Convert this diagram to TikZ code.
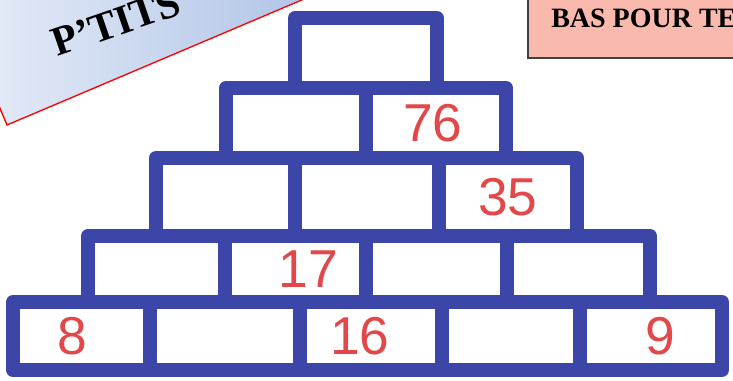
\documentclass[tikz,border=0pt]{standalone}
\usepackage{fontspec}
\setmainfont{Liberation Serif}
\newfontfamily\handfont{Liberation Sans}
\usetikzlibrary{positioning}
\definecolor{pyrBlue}{HTML}{3C46A8}
\definecolor{pyrRed}{HTML}{E2474A}
\definecolor{bannerBlue}{HTML}{AEC2E6}
\definecolor{bannerLight}{HTML}{E9EFF9}
\definecolor{notePink}{HTML}{F9B9AD}

\begin{document}
\begin{tikzpicture}[x=0.75pt,y=-0.75pt,
  pyrline/.style={draw=pyrBlue,line width=10.5pt,line join=round,line cap=round},
  digit/.style={text=pyrRed,font=\handfont\fontsize{40}{40}\selectfont},
  bannertext/.style={font=\bfseries\fontsize{31}{31}\selectfont,inner sep=0pt},
  notetext/.style={font=\bfseries\fontsize{21}{21}\selectfont,inner sep=0pt}]
\useasboundingbox (0,0) rectangle (733,381);
\newcommand{\pyrcell}[7][0]{%
  \draw[pyrline] (#3,#5) rectangle (#4,#6);
  \node[digit] (#2) at ({(#3+#4)/2+#1},{(#5+#6)/2}) {#7};
}
% banner and note, cut by the frame
\begin{scope}
\clip (0,0) rectangle (733,381);
\draw[red,line width=1pt,left color=bannerLight,right color=bannerBlue]
  (7,125) -- (330,-12) -- (-51,-13) -- cycle;
\node[bannertext,rotate=19,anchor=base west] (tits) at (57,57) {P’TITS};
\draw[fill=notePink,draw=black!75,line width=0.8pt] (528,-5) rectangle (745,58);
\node[notetext,anchor=base west] (bas) at (551,28) {BAS POUR TE};
\end{scope}
% the pyramid, top row first
\pyrcell{a1}{295}{437}{18}{88}{}
\pyrcell{b1}{226}{366}{88}{158}{}
\pyrcell[-3]{b2}{366}{506}{88}{158}{76}
\pyrcell{c1}{156}{295}{158}{236}{}
\pyrcell{c2}{295}{439}{158}{236}{}
\pyrcell{c3}{439}{577}{158}{236}{35}
\pyrcell{d1}{88}{225}{236}{302}{}
\pyrcell[13]{d2}{225}{366}{236}{302}{17}
\pyrcell{d3}{366}{507}{236}{302}{}
\pyrcell{d4}{507}{650}{236}{302}{}
\pyrcell[-9]{e1}{13}{150}{302}{370}{8}
\pyrcell{e2}{150}{300}{302}{370}{}
\pyrcell[-11]{e3}{300}{442}{302}{370}{16}
\pyrcell{e4}{442}{580}{302}{370}{}
\pyrcell[9]{e5}{580}{722}{302}{370}{9}
\end{tikzpicture}
\end{document}
